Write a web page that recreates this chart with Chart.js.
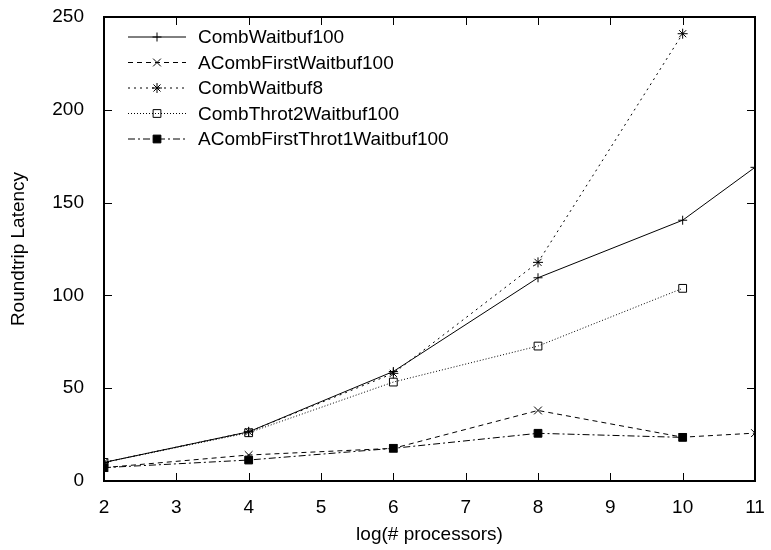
<!DOCTYPE html>
<html>
<head>
<meta charset="utf-8">
<script src="https://cdn.jsdelivr.net/npm/chart.js@4.4.1/dist/chart.umd.min.js"></script>
<style>
  body { margin: 0; background: #fff; }
  #wrap { width: 771px; height: 550px; }
</style>
</head>
<body>
<div id="wrap"><canvas id="myChart" width="771" height="550"></canvas></div>
<script>
// data
var procs = [2, 4, 6, 8, 10, 11];
var combWaitbuf100 = [10, 26.5, 59, 109.5, 140.5, 169];
var aCombFirstWaitbuf100 = [7.2, 14, 17.6, 38, 23.6, 25.8];
var combWaitbuf8 = [10, 26.5, 58, 117.8, 241];
var combThrot2Waitbuf100 = [10, 26, 53.3, 72.7, 103.8];
var aCombFirstThrot1Waitbuf100 = [7.2, 11.3, 17.6, 25.7, 23.5];
var xTicks = [2, 3, 4, 5, 6, 7, 8, 9, 10, 11];
var yTicks = [0, 50, 100, 150, 200, 250];
var seriesNames = [
    "CombWaitbuf100",
    "ACombFirstWaitbuf100",
    "CombWaitbuf8",
    "CombThrot2Waitbuf100",
    "ACombFirstThrot1Waitbuf100"
];

function pts(vals) {
    return vals.map(function (v, i) { return { x: procs[i], y: v }; });
}

var FONT = "'Liberation Sans', Arial, sans-serif";

// gnuplot-like frame + inward ticks, then the key inside the plot
var gnuDecor = {
    id: 'gnuDecor',
    afterDraw: function (chart) {
        var c = chart.ctx;
        var xs = chart.scales.x, ys = chart.scales.y;
        var L = Math.round(xs.getPixelForValue(2));
        var R = Math.round(xs.getPixelForValue(11));
        var T = Math.round(ys.getPixelForValue(250));
        var B = Math.round(ys.getPixelForValue(0));
        c.save();
        c.fillStyle = 'rgb(0,0,0)';
        // frame
        c.fillRect(L - 1, T - 1, R - L + 2, 2);
        c.fillRect(L - 1, B - 1, R - L + 2, 2);
        c.fillRect(L - 1, T - 1, 2, B - T + 2);
        c.fillRect(R - 1, T - 1, 2, B - T + 2);
        // ticks
        xTicks.forEach(function (v) {
            var px = Math.round(xs.getPixelForValue(v));
            c.fillRect(px, B - 8, 1, 8);
            c.fillRect(px, T, 1, 8);
        });
        yTicks.forEach(function (w) {
            var py = Math.round(ys.getPixelForValue(w));
            c.fillRect(L, py, 8, 1);
            c.fillRect(R - 8, py, 8, 1);
        });

        chart.data.datasets.forEach(function (ds, i) {
            var y = 37 + i * 25.5;
            c.strokeStyle = 'black';
            c.lineWidth = 1;
            c.setLineDash(ds.borderDash || []);
            c.beginPath();
            c.moveTo(128, y); c.lineTo(186, y);
            c.stroke();
            c.setLineDash([]);
            c.fillStyle = ds.pointBackgroundColor;
            Chart.helpers.drawPoint(c, {
                pointStyle: ds.pointStyle,
                radius: ds.pointRadius,
                rotation: 0,
                borderWidth: 1
            }, 157, y);
            c.fillStyle = 'black';
            c.font = '19px ' + FONT;
            c.textBaseline = 'middle';
            c.fillText(ds.label, 198, y + 1);
        });
        c.restore();
    }
};

function series(label, vals, dash, style, fill, r) {
    return {
        label: label,
        data: pts(vals),
        borderColor: '#000',
        borderWidth: 1,
        borderDash: dash,
        pointStyle: style,
        pointRadius: r,
        pointBorderColor: '#000',
        pointBackgroundColor: fill,
        pointBorderWidth: 1,
        backgroundColor: fill,
        fill: false,
        tension: 0
    };
}

var ctx = document.getElementById("myChart").getContext('2d');

var myLineChart = new Chart(ctx, {
    type: 'line',
    data: {
        datasets: [
            series(seriesNames[0], combWaitbuf100, [], 'cross', 'rgba(0,0,0,0)', 4.5),
            series(seriesNames[1], aCombFirstWaitbuf100, [5, 4], 'crossRot', 'rgba(0,0,0,0)', 5.5),
            series(seriesNames[2], combWaitbuf8, [2, 4], 'star', 'rgba(0,0,0,0)', 5),
            series(seriesNames[3], combThrot2Waitbuf100, [1, 2], 'rect', 'rgba(0,0,0,0)', 5.5),
            series(seriesNames[4], aCombFirstThrot1Waitbuf100, [7, 3, 2, 3], 'rect', '#000', 5.5)
        ]
    },
    plugins: [gnuDecor],
    options: {
        responsive: false,
        animation: false,
        layout: { padding: { top: 17, right: 16, left: 0, bottom: 0 } },
        plugins: {
            legend: { display: false },
            tooltip: { enabled: false }
        },
        scales: {
            x: {
                type: 'linear',
                min: 2,
                max: 11,
                ticks: { stepSize: 1, color: '#000', font: { size: 19, family: FONT }, padding: 7 },
                grid: { display: false },
                border: { display: false },
                title: { display: true, text: 'log(# processors)', color: '#000', font: { size: 19, family: FONT }, padding: { top: 3 } },
                afterFit: function (s) { s.height = 69; s.paddingLeft = 0; s.paddingRight = 0; }
            },
            y: {
                min: 0,
                max: 250,
                ticks: { stepSize: 50, color: '#000', font: { size: 19, family: FONT }, padding: 12 },
                grid: { display: false },
                border: { display: false },
                title: { display: true, text: 'Roundtrip Latency', color: '#000', font: { size: 19, family: FONT }, padding: { top: 7, bottom: 0 } },
                afterFit: function (s) { s.width = 104; s.paddingTop = 0; s.paddingBottom = 0; }
            }
        }
    }
});
</script>
</body>
</html>
